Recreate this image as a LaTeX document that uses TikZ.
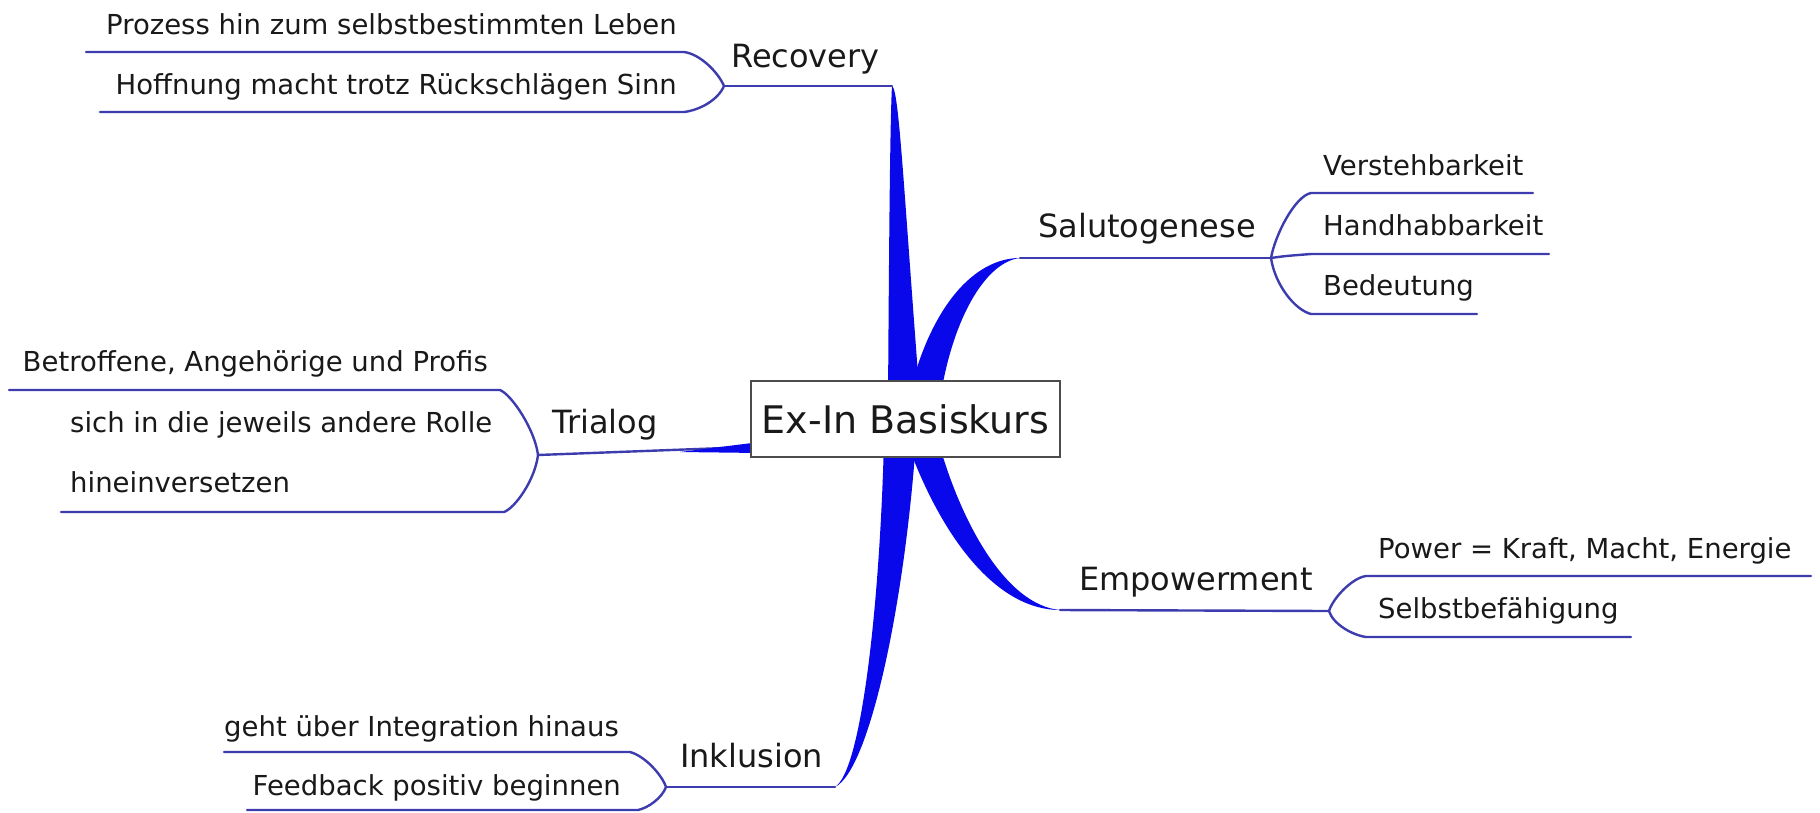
\documentclass[tikz,border=0pt]{standalone}
\usepackage{fontspec}
\setmainfont{DejaVu Sans}
\definecolor{branch}{RGB}{8,8,235}
\definecolor{thin}{RGB}{60,60,175}
\definecolor{txt}{RGB}{25,25,25}
\begin{document}
\begin{tikzpicture}[x=1pt,y=-1pt,
  leaf/.style={font=\fontsize{27.5}{33}\selectfont, inner sep=0pt, text=txt},
  mainlbl/.style={font=\fontsize{32}{38}\selectfont, inner sep=0pt, text=txt},
  thinline/.style={draw=thin, line width=2.4pt, line cap=round, line join=round},
  thick branch/.style={fill=branch}]
\useasboundingbox (0,0) rectangle (1820,812);
\fill[white] (0,0) rectangle (1820,812);

% bracket vertices and branch tips
\coordinate (rv) at (724,86);   \coordinate (rt) at (892,86);
\coordinate (sv) at (1271,258); \coordinate (st) at (1020,258);
\coordinate (tv) at (538,455);  \coordinate (tt) at (751,447);
\coordinate (iv) at (666,787);  \coordinate (it) at (835,787);
\coordinate (ev) at (1329,611); \coordinate (et) at (1060,610);

% thick branches
\fill[thick branch] (rt) .. controls (899,90) and (903,180) .. (920,400) -- (888,400) .. controls (889,250) and (890,120) .. (rt) -- cycle;
\fill[thick branch] (st) .. controls (975,258) and (930,305) .. (908,400) -- (940,400) .. controls (952,320) and (985,262) .. (st) -- cycle;
\fill[thick branch] (it) .. controls (862,770) and (880,600) .. (884,440) -- (916,440) .. controls (905,600) and (870,770) .. (it) -- cycle;
\fill[thick branch] (et) .. controls (1005,605) and (960,520) .. (938,440) -- (908,445) .. controls (945,545) and (1000,610) .. (et) -- cycle;

% underlines of main branches
\draw[thinline] (rv) -- (rt);
\draw[thinline] (st) -- (sv);
\draw[thinline] (tv) -- (tt);
\fill[thick branch] (680,452) -- (760,442) -- (760,453) -- cycle;
\draw[thinline] (iv) -- (it);
\draw[thinline] (et) -- (ev);

% brackets
\draw[thinline] (86,52) -- (684,52) .. controls (700,54) and (718,72) .. (rv) .. controls (718,100) and (700,110) .. (684,112) -- (100,112);
\draw[thinline] (9,390) -- (500,390) .. controls (512,395) and (535,430) .. (tv) .. controls (535,480) and (515,508) .. (504,512) -- (61,512);
\draw[thinline] (224,752) -- (630,752) .. controls (645,756) and (662,775) .. (iv) .. controls (662,798) and (648,808) .. (638,810) -- (247,810);
\draw[thinline] (1533,193) -- (1311,193) .. controls (1295,196) and (1275,235) .. (sv) .. controls (1275,285) and (1295,310) .. (1311,314) -- (1477,314);
\draw[thinline] (sv) .. controls (1285,256) .. (1311,254) -- (1549,254);
\draw[thinline] (1811,576) -- (1366,576) .. controls (1352,578) and (1333,598) .. (ev) .. controls (1333,624) and (1352,635) .. (1366,637) -- (1631,637);

% center
\node[draw=black!70, line width=1.6pt, fill=white, minimum width=309pt, minimum height=76pt, inner sep=0pt,
      font=\fontsize{38}{44}\selectfont, text=txt] (root) at (905.5,419) {Ex-In Basiskurs};

% main labels
\node[mainlbl, anchor=base west] (recovery) at (731,67) {Recovery};
\node[mainlbl, anchor=base west] (saluto) at (1038,237) {Salutogenese};
\node[mainlbl, anchor=base west] (trialog) at (552,433) {Trialog};
\node[mainlbl, anchor=base west] (inklusion) at (680,767) {Inklusion};
\node[mainlbl, anchor=base west] (empower) at (1079,590) {Empowerment};

% leaves
\node[leaf, anchor=base east] (r1) at (677,34) {Prozess hin zum selbstbestimmten Leben};
\node[leaf, anchor=base east] (r2) at (677,94) {Hoffnung macht trotz Rückschlägen Sinn};
\node[leaf, anchor=base west] (s1) at (1323,175) {Verstehbarkeit};
\node[leaf, anchor=base west] (s2) at (1323,235) {Handhabbarkeit};
\node[leaf, anchor=base west] (s3) at (1323,295) {Bedeutung};
\node[leaf, anchor=base east] (t1) at (488,371) {Betroffene, Angehörige und Profis};
\node[leaf, anchor=base west] (t2a) at (70,432) {sich in die jeweils andere Rolle};
\node[leaf, anchor=base west] (t2b) at (70,492) {hineinversetzen};
\node[leaf, anchor=base east] (i1) at (619,736) {geht über Integration hinaus};
\node[leaf, anchor=base east] (i2) at (621,795) {Feedback positiv beginnen};
\node[leaf, anchor=base west] (e1) at (1378,558) {Power = Kraft, Macht, Energie};
\node[leaf, anchor=base west] (e2) at (1378,618) {Selbstbefähigung};
\end{tikzpicture}
\end{document}
